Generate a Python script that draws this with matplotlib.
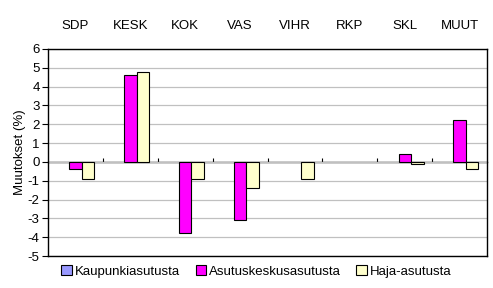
import numpy as np
import matplotlib
matplotlib.use("Agg")
import matplotlib.pyplot as plt
from matplotlib.patches import Patch

puolueet = ["SDP", "KESK", "KOK", "VAS", "VIHR", "RKP", "SKL", "MUUT"]
kaupunki = [0, 0, 0, 0, 0, 0, 0, 0]
asutuskeskus = [-0.4, 4.6, -3.8, -3.1, 0, 0, 0.4, 2.2]
haja = [-0.9, 4.8, -0.9, -1.4, -0.9, 0, -0.1, -0.4]
sarjat = ["Kaupunkiasutusta", "Asutuskeskusasutusta", "Haja-asutusta"]
y_ticks = list(range(-5, 7))

colors = ["#9999FF", "#FF00FF", "#FFFFCC"]

plt.rcParams["font.family"] = ["Liberation Sans", "DejaVu Sans"]
plt.rcParams["font.size"] = 9.5

fig, ax = plt.subplots(figsize=(4.93, 2.88), dpi=100)
fig.subplots_adjust(left=0.0974, right=0.988, top=0.830, bottom=0.111)

x = np.arange(len(puolueet))
w = 0.228
for i, vals in enumerate([kaupunki, asutuskeskus, haja]):
    v = np.array(vals, dtype=float)
    mask = v != 0
    ax.bar(x[mask] + (i - 1) * w, v[mask], width=w, color=colors[i],
           edgecolor="black", linewidth=0.8, zorder=3)

ax.set_xlim(-0.5, len(puolueet) - 0.5)
ax.set_ylim(-5, 6)
ax.set_yticks(y_ticks)
ax.set_yticklabels([str(t) for t in y_ticks])
ax.tick_params(axis="y", direction="out", length=4, width=0.8, pad=2)
ax.yaxis.grid(True, color="#C0C0C0", linewidth=0.9, zorder=0)

# category labels on top
ax.xaxis.tick_top()
ax.set_xticks(x)
ax.set_xticklabels(puolueet)
ax.tick_params(axis="x", length=0, pad=12)

for s in ax.spines.values():
    s.set_color("black")
    s.set_linewidth(1.0)

# zero line axis with category separator ticks
sec = ax.secondary_xaxis(5 / 11)
sec.set_xticks(np.arange(0.5, len(puolueet) - 0.5, 1.0))
sec.set_xticklabels([])
sec.tick_params(direction="in", length=3, width=0.8)
sec.spines["bottom"].set_linewidth(1.0)

ax.set_ylabel("Muutokset (%)", labelpad=1)

handles = [Patch(facecolor=c, edgecolor="black", linewidth=0.8) for c in colors]
fig.legend(handles, sarjat, loc="center", bbox_to_anchor=(0.52, 0.057), ncol=3,
           frameon=False, handlelength=0.8, handleheight=0.8, handletextpad=0.2,
           columnspacing=1.2, fontsize=9.5)

fig.savefig("out.png", dpi=100)
